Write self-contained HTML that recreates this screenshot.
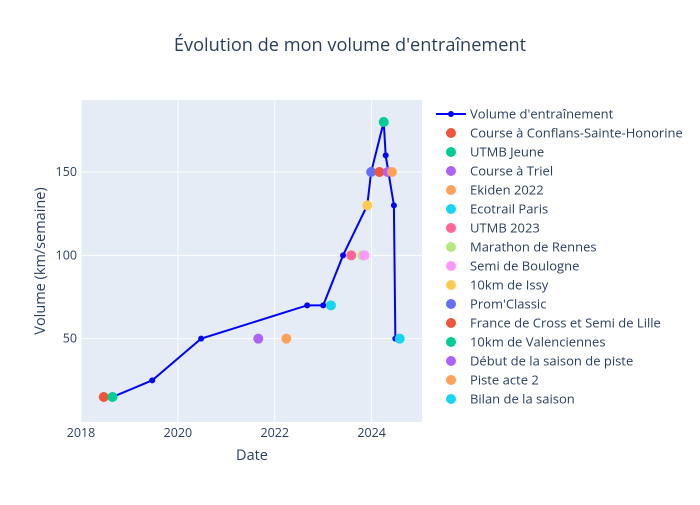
<!DOCTYPE html>
<html><head><meta charset="utf-8"><style>
body{margin:0;background:#fff;}
svg{font-family:"Open Sans","Liberation Sans","DejaVu Sans",sans-serif;}
</style></head><body>
<svg id="chart" width="700" height="500" xmlns="http://www.w3.org/2000/svg">
<rect x="0" y="0" width="700" height="500" fill="#fff"/>
<rect x="81" y="100" width="341" height="322" fill="#E5ECF6"/>
<g id="grid"></g>
<g id="axes"></g>
<g id="marks"></g>
<g id="legend"></g>
<text x="350" y="51" text-anchor="middle" font-size="18.2" fill="#2a3f5f">Évolution de mon volume d'entraînement</text>
<text x="252" y="460" text-anchor="middle" font-size="14.5" fill="#2a3f5f">Date</text>
<text x="0" y="0" transform="translate(45,261) rotate(-90)" text-anchor="middle" font-size="14.5" fill="#2a3f5f">Volume (km/semaine)</text>
</svg>
<script>
const lineX=[2018.65,2019.47,2020.48,2022.67,2023.0,2023.41,2023.91,2023.99,2024.25,2024.29,2024.46,2024.49];
const lineY=[15,25,50,70,70,100,130,150,180,160,130,50];
const eventNames=["Course à Conflans-Sainte-Honorine","UTMB Jeune","Course à Triel","Ekiden 2022","Ecotrail Paris","UTMB 2023","Marathon de Rennes","Semi de Boulogne","10km de Issy","Prom'Classic","France de Cross et Semi de Lille","10km de Valenciennes","Début de la saison de piste","Piste acte 2","Bilan de la saison"];
const eventX=[2018.47,2018.65,2021.66,2022.24,2023.16,2023.58,2023.81,2023.85,2023.91,2023.99,2024.16,2024.25,2024.33,2024.42,2024.58];
const eventY=[15,15,50,50,70,100,100,100,130,150,150,180,150,150,50];
const xTicks=[2018,2020,2022,2024];
const yTicks=[50,100,150];
const colors=["#EF553B","#00CC96","#AB63FA","#FFA15A","#19D3F3","#FF6692","#B6E880","#FF97FF","#FECB52","#636EFA"];
const X0=81,X1=422,Y0=422,Y1=100,xmin=2018.0,xmax=2025.04,ymin=0,ymax=193.2;
const sx=v=>X0+(v-xmin)/(xmax-xmin)*(X1-X0);
const sy=v=>Y0-(v-ymin)/(ymax-ymin)*(Y0-Y1);
const NS="http://www.w3.org/2000/svg";
function mk(t,a,p){const e=document.createElementNS(NS,t);for(const k in a)e.setAttribute(k,a[k]);p.appendChild(e);return e;}
const grid=document.getElementById('grid'),axes=document.getElementById('axes'),marks=document.getElementById('marks'),leg=document.getElementById('legend');
xTicks.forEach(t=>{
  const l=mk('line',{x1:sx(t),x2:sx(t),y1:Y1,y2:Y0,stroke:'#fff','stroke-width':1},grid);
  
  
  const tx=mk('text',{x:sx(t),y:437,'text-anchor':'middle','font-size':12.5,fill:'#2a3f5f'},axes);
  tx.textContent=t;
  
  
});
yTicks.forEach(t=>{
  const l=mk('line',{x1:X0,x2:X1,y1:sy(t),y2:sy(t),stroke:'#fff','stroke-width':1},grid);
  
  
  const tx=mk('text',{x:77,y:sy(t)+4,'text-anchor':'end','font-size':12.5,fill:'#2a3f5f'},axes);
  tx.textContent=t;
  
  
});
const pl=mk('polyline',{points:lineX.map((x,i)=>sx(x)+','+sy(lineY[i])).join(' '),fill:'none',stroke:'#0000ff','stroke-width':2},marks);


lineX.forEach((x,i)=>{
  const c=mk('circle',{cx:sx(x),cy:sy(lineY[i]),r:3,fill:'#0000ff'},marks);
  
  
});
eventX.forEach((x,i)=>{
  const c=mk('circle',{cx:sx(x),cy:sy(eventY[i]),r:5,fill:colors[i%10]},marks);
  
  
});
let ly=114;
const l0=mk('line',{x1:436,x2:466,y1:ly,y2:ly,stroke:'#0000ff','stroke-width':2},leg);


const c0=mk('circle',{cx:451,cy:ly,r:3,fill:'#0000ff'},leg);


const t0=mk('text',{x:470,y:ly+4.5,'font-size':13,fill:'#2a3f5f'},leg);
t0.textContent="Volume d'entraînement";


eventNames.forEach((n,i)=>{
  const y=ly+19*(i+1);
  const c=mk('circle',{cx:451,cy:y,r:5,fill:colors[i%10]},leg);
  
  
  const t=mk('text',{x:470,y:y+4.5,'font-size':13,fill:'#2a3f5f'},leg);
  t.textContent=n;
  
  
});
</script>
</body></html>
